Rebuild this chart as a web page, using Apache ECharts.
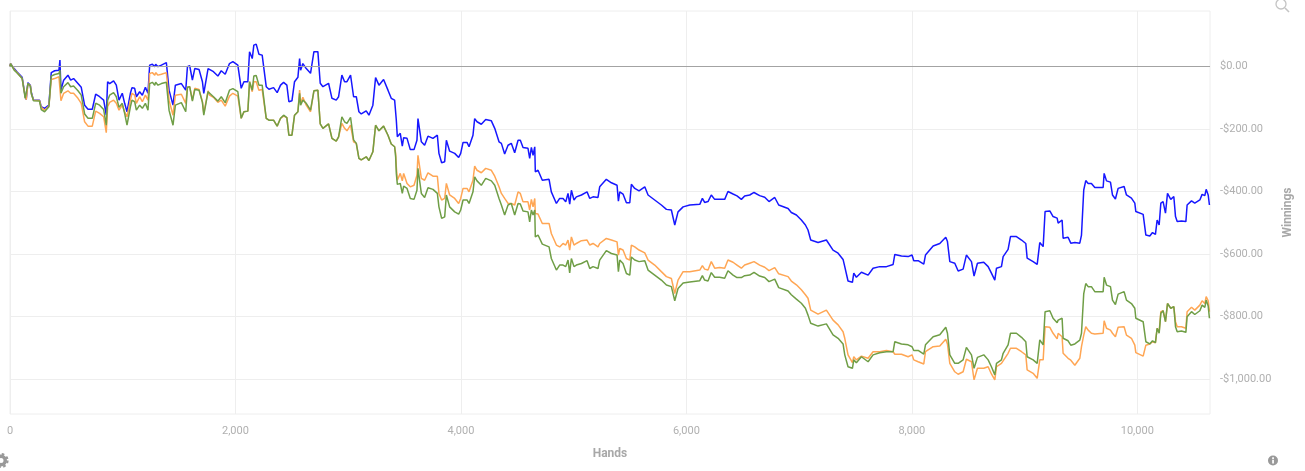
<!DOCTYPE html>
<html><head><meta charset="utf-8">
<style>html,body{margin:0;padding:0;background:#fff}#c{width:1305px;height:471px}</style>
<script src="https://cdn.jsdelivr.net/npm/echarts@6/dist/echarts.min.js"></script>
</head><body><div id="c"></div>
<script>
const handsTicks = [0,2000,4000,6000,8000,10000];
const yTicks = [-1000,-800,-600,-400,-200,0];
const hands = [
0,5,20,37,61,108,135,144,159,180,191,209,262,277,307,345,366,396,434,443,452,476,514,538,564,603,632,662,692,730,760,795,831,854,866,884,919,943,967,996,1017,1038,1068,1082,1106,1121,1150,1174,1201,1224,1239,1263,1284,1292,1313,1343,1387,1411,1446,1467,1520,1559,1574,1594,1618,1639,1677,1707,1719,1757,
1770,1805,1844,1874,1909,1947,1977,2021,2051,2075,2110,2125,2140,2149,2163,2184,2208,2237,2273,2297,2338,2370,2400,2427,2456,2474,2501,2524,2554,2569,2578,2598,2628,2666,2696,2731,2752,2776,2826,2856,2894,2915,2944,2968,2989,3021,3048,3072,3095,3116,3160,3184,3219,3243,3273,3314,3353,3382,3412,
3421,3427,3436,3462,3480,3492,3522,3551,3584,3610,3619,3634,3649,3678,3708,3752,3791,3805,3829,3856,3871,3885,3900,3945,3980,3998,4019,4054,4072,4107,4122,4143,4181,4220,4270,4300,4338,4359,4388,4418,4447,4477,4507,4527,4551,4595,4610,4625,4640,4655,4660,4684,4722,4782,4802,4847,4876,4906,4930,4950,4965,4980,5003,5024,5069,5119,5143,5172,5216,5231,5290,5335,5385,5397,5409,5438,5468,5498,5512,5542,5557,5580,5631,5660,5719,5778,5823,5867,5897,5926,5971,6030,6119,
6142,6162,6192,6221,6251,6295,6340,6369,6414,6449,6488,6517,6562,6600,6650,6695,6733,6784,6819,6902,6931,6976,7020,7056,
7079,7103,7168,7242,7301,7346,7390,7405,7434,7473,7485,7508,7553,7612,7656,7715,7775,7834,7849,7908,7967,8002,8017,8056,8106,8121,8189,8248,8301,8316,8337,8381,8411,8455,8484,8529,8552,8582,8638,8677,8706,8736,8751,8795,8810,8854,8875,8928,8973,9011,9023,9076,9112,9135,9165,
9182,9224,9253,9289,9298,9333,9342,9386,9410,9446,9490,9505,9525,9543,9564,9593,9623,9697,9706,9727,9762,9780,9806,9830,9883,9904,9948,9978,9987,10052,10076,10111,10135,10161,10176,10194,10209,10229,10250,10268,10297,10324,10339,10354,10392,10431,10442,10481,10510,10555,10575,10599,10611,10629,10640];
const blueVals = [
0,9,12,-7,-17,-35,-97,-106,-52,-60,-86,-108,-108,-129,-134,-124,-20,-14,-12,20,-76,-44,-28,-44,-39,-55,-67,-124,-137,-137,-89,-97,-108,-156,-49,-55,-46,-60,-108,-86,-118,-145,-86,-68,-70,-97,-81,-92,-67,-86,4,7,-1,7,-1,4,12,-76,-124,-60,-55,-76,-1,2,-44,-7,-10,-49,-86,-7,
-7,-17,-31,-14,-25,9,15,4,-70,-49,-49,47,52,25,68,71,39,36,-65,-73,-68,-84,-60,-51,-60,-113,-110,-49,-35,25,-12,9,-7,-22,47,47,-54,-65,-54,-102,-108,-97,-28,-49,-49,-28,-97,-97,-145,-152,-142,-156,-124,-36,-60,-42,-76,-102,-108,
-103,-172,-225,-214,-255,-228,-230,-266,-266,-236,-167,-167,-241,-252,-223,-230,-220,-278,-308,-305,-236,-236,-271,-278,-291,-278,-243,-243,-257,-220,-167,-177,-185,-170,-174,-198,-241,-246,-280,-252,-246,-276,-236,-236,-259,-262,-294,-259,-284,-257,-337,-332,-364,-361,-401,-438,-422,-422,-433,-406,-440,-396,-427,-417,-411,-401,-422,-417,-419,-385,-361,-372,-380,-431,-401,-408,-436,-436,-377,-390,-385,-398,-385,-411,-427,-443,-457,-459,-507,-465,-449,-443,-441,
-422,-435,-432,-411,-425,-425,-425,-400,-408,-414,-425,-414,-411,-403,-413,-418,-432,-419,-443,-454,-467,-475,-491,-507,
-523,-555,-563,-555,-587,-597,-617,-640,-686,-690,-661,-674,-658,-667,-645,-640,-640,-633,-601,-606,-608,-603,-621,-621,-632,-603,-574,-566,-546,-560,-624,-629,-654,-648,-603,-624,-670,-629,-626,-640,-661,-683,-645,-640,-608,-585,-544,-544,-555,-566,-613,-624,-633,-563,-576,
-464,-462,-480,-485,-501,-491,-549,-546,-565,-563,-565,-539,-395,-365,-374,-374,-387,-387,-342,-366,-370,-411,-424,-390,-384,-411,-421,-437,-464,-473,-539,-542,-531,-537,-491,-507,-437,-432,-469,-406,-425,-416,-480,-496,-494,-496,-443,-430,-437,-427,-409,-413,-393,-411,-443];
const orangeVals = [
0,9,7,-10,-19,-39,-97,-106,-55,-61,-89,-108,-109,-131,-140,-127,-42,-39,-33,-28,-110,-86,-78,-86,-86,-102,-118,-177,-191,-191,-143,-150,-161,-212,-129,-115,-108,-118,-140,-124,-145,-161,-108,-86,-92,-118,-97,-113,-92,-108,-23,-20,-28,-20,-28,-25,-20,-108,-156,-92,-89,-118,-67,-65,-108,-70,-74,-113,-150,-78,
-92,-99,-115,-108,-127,-95,-86,-95,-166,-145,-143,-49,-49,-81,-49,-49,-76,-74,-166,-172,-172,-191,-166,-159,-164,-220,-220,-156,-145,-76,-118,-99,-124,-145,-78,-76,-184,-198,-184,-230,-239,-225,-182,-198,-206,-188,-241,-246,-294,-299,-289,-301,-273,-188,-206,-191,-220,-248,-257,
-278,-321,-364,-342,-366,-342,-374,-385,-380,-348,-284,-289,-358,-364,-340,-351,-351,-406,-427,-422,-374,-374,-411,-422,-438,-422,-390,-390,-401,-364,-319,-332,-340,-326,-332,-351,-385,-406,-422,-438,-438,-443,-401,-406,-433,-433,-459,-425,-449,-422,-470,-472,-502,-502,-534,-571,-577,-566,-571,-555,-587,-545,-571,-566,-557,-555,-571,-566,-577,-566,-550,-555,-561,-603,-582,-587,-614,-619,-571,-577,-582,-587,-596,-619,-635,-656,-672,-678,-726,-683,-656,-656,-651,
-637,-648,-651,-624,-645,-643,-645,-619,-626,-635,-645,-635,-629,-624,-635,-642,-653,-643,-663,-672,-686,-698,-714,-730,
-741,-779,-792,-779,-811,-826,-848,-869,-922,-947,-928,-938,-926,-933,-912,-912,-908,-912,-920,-920,-928,-922,-938,-944,-951,-912,-896,-894,-872,-887,-949,-976,-984,-976,-936,-944,-1002,-965,-965,-960,-983,-1002,-960,-949,-944,-917,-901,-901,-912,-922,-970,-981,-997,-938,-938,
-832,-834,-853,-871,-853,-864,-917,-933,-939,-955,-933,-896,-859,-832,-843,-853,-855,-853,-813,-837,-843,-853,-864,-834,-832,-859,-869,-891,-915,-926,-891,-887,-880,-883,-837,-848,-784,-781,-816,-758,-773,-768,-816,-832,-832,-837,-784,-770,-779,-763,-749,-758,-736,-749,-784];
const greenVals = [
0,9,9,-12,-20,-39,-102,-108,-55,-63,-90,-110,-111,-138,-145,-129,-31,-26,-23,-12,-86,-65,-52,-65,-63,-78,-92,-152,-166,-166,-118,-124,-138,-188,-108,-92,-84,-97,-131,-118,-150,-188,-129,-108,-113,-140,-124,-134,-118,-140,-55,-51,-60,-51,-60,-55,-51,-140,-188,-124,-116,-145,-67,-65,-111,-74,-76,-115,-156,-81,
-86,-97,-111,-97,-116,-76,-71,-81,-166,-145,-143,-49,-44,-76,-31,-29,-60,-60,-166,-172,-172,-191,-166,-156,-164,-220,-220,-156,-145,-86,-124,-108,-118,-140,-78,-76,-184,-198,-184,-230,-239,-225,-161,-177,-182,-163,-235,-246,-294,-299,-289,-301,-273,-188,-206,-191,-220,-248,-257,
-289,-342,-377,-374,-406,-383,-390,-422,-425,-396,-326,-332,-406,-419,-388,-393,-406,-449,-486,-481,-411,-417,-449,-465,-472,-459,-427,-427,-438,-401,-353,-366,-380,-358,-366,-380,-422,-443,-475,-443,-438,-475,-438,-440,-462,-465,-497,-459,-475,-459,-545,-539,-568,-577,-614,-651,-635,-635,-640,-619,-660,-614,-640,-635,-630,-621,-646,-640,-646,-619,-589,-598,-603,-656,-619,-630,-662,-667,-609,-619,-624,-624,-621,-651,-667,-683,-699,-704,-749,-710,-692,-689,-685,
-669,-683,-686,-659,-674,-674,-677,-653,-667,-675,-675,-669,-667,-658,-670,-675,-688,-680,-707,-718,-730,-744,-757,-773,
-795,-821,-830,-823,-858,-869,-887,-922,-960,-965,-938,-947,-928,-944,-922,-915,-912,-912,-880,-887,-890,-896,-908,-908,-920,-890,-864,-858,-834,-853,-922,-949,-949,-938,-898,-922,-965,-930,-922,-938,-960,-986,-949,-938,-917,-890,-853,-853,-866,-880,-928,-938,-949,-874,-890,
-784,-781,-805,-819,-811,-805,-869,-877,-891,-887,-875,-853,-726,-694,-704,-704,-720,-720,-674,-699,-704,-747,-761,-728,-720,-747,-758,-773,-805,-816,-880,-887,-877,-883,-837,-853,-789,-781,-816,-758,-773,-768,-832,-848,-846,-850,-800,-784,-793,-781,-763,-770,-747,-766,-805];

const pair = vals => hands.map((h,i)=>[h,vals[i]]);
const money = v => (v<0?'-':'')+'$'+Math.abs(v).toLocaleString('en-US',{minimumFractionDigits:2});
const FONT = 'Roboto';
const TXT = '#b0b0b0';
const GRID = '#eeeeee';
const lineOf = (name,vals,color,extra) => Object.assign({
  name,type:'line',data:pair(vals),showSymbol:false,symbol:'none',smooth:false,
  lineStyle:{color,width:1.5},silent:true,animation:false
},extra||{});

const chart = echarts.init(document.getElementById('c'),null,{renderer:'canvas'});
chart.setOption({
  animation:false,
  backgroundColor:'#fff',
  grid:{left:10,right:95,top:11,bottom:57,show:true,borderColor:GRID,borderWidth:1,containLabel:false},
  xAxis:{type:'value',min:0,max:10645,
    name:'Hands',nameLocation:'middle',nameGap:34,
    nameTextStyle:{color:'#a8a8a8',fontFamily:FONT,fontSize:12,fontWeight:'bold'},
    axisLine:{show:false},
    axisTick:{show:true,length:8,lineStyle:{color:GRID},customValues:handsTicks},
    splitLine:{show:true,lineStyle:{color:GRID,width:1}},
    axisLabel:{color:TXT,fontFamily:FONT,fontSize:11,margin:12,customValues:handsTicks,
      formatter:v=>v.toLocaleString('en-US')}},
  yAxis:{type:'value',position:'right',min:-1111,max:177,
    name:'Winnings',nameLocation:'middle',nameGap:65,nameRotate:90,
    nameTextStyle:{color:'#a8a8a8',fontFamily:FONT,fontSize:12,fontWeight:'bold'},
    axisLine:{show:false},
    axisTick:{show:true,length:8,lineStyle:{color:GRID},customValues:yTicks},
    splitLine:{show:true,lineStyle:{color:GRID,width:1}},
    axisLabel:{color:TXT,fontFamily:FONT,fontSize:11,margin:10,padding:[2,0,0,0],customValues:yTicks,formatter:money}},
  series:[
    lineOf('Net won',blueVals,'#1717ff',{z:3,markLine:{silent:true,symbol:'none',animation:false,label:{show:false},
      lineStyle:{color:'#a3a3a3',width:1,type:'solid'},data:[{yAxis:0}]}}),
    lineOf('All-in EV',orangeVals,'#ffa654',{z:4}),
    lineOf('Showdown',greenVals,'#6f9e46',{z:5})
  ],
  graphic:[
    {type:'circle',silent:true,shape:{cx:1281,cy:4,r:5},style:{fill:'none',stroke:'#c4c4c4',lineWidth:1.3}},
    {type:'line',silent:true,shape:{x1:1285,y1:8,x2:1289,y2:12},style:{stroke:'#c4c4c4',lineWidth:1.6}},
    {type:'ring',silent:true,shape:{cx:1,cy:460.5,r:6,r0:2.5},style:{fill:'#999'}},
    {type:'circle',silent:true,shape:{cx:1,cy:460.5,r:6.5},style:{fill:'none',stroke:'#999',lineWidth:2.2,lineDash:[2.6,2.5]}},
    {type:'circle',silent:true,shape:{cx:1273,cy:460.5,r:5},style:{fill:'#999'}},
    {type:'rect',silent:true,shape:{x:1272.2,y:459.8,width:1.7,height:3.6},style:{fill:'#fff'}},
    {type:'rect',silent:true,shape:{x:1272.2,y:457.3,width:1.7,height:1.6},style:{fill:'#fff'}}
  ]
});
</script></body></html>
